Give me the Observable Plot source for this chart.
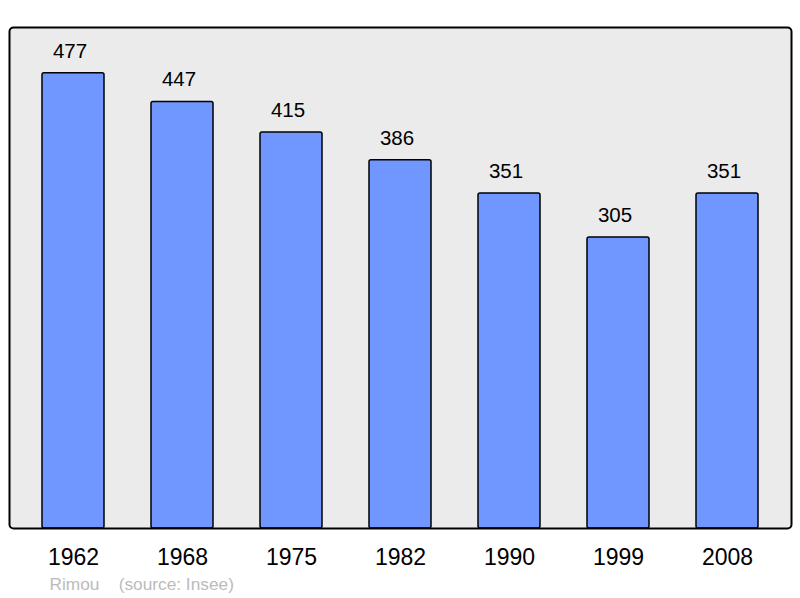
<!DOCTYPE html>
<html>
<head>
<meta charset="utf-8">
<script src="https://cdn.jsdelivr.net/npm/d3@7"></script>
<script src="https://cdn.jsdelivr.net/npm/@observablehq/plot@0.6"></script>
<style>
  html, body { margin: 0; padding: 0; background: #fff; }
  svg { display: block; font-family: "Liberation Sans", Arial, sans-serif; }
</style>
</head>
<body>
<div id="chart"></div>
<script>
const years = ["1962", "1968", "1975", "1982", "1990", "1999", "2008"];
const population = [477, 447, 415, 386, 351, 305, 351];
const caption = "Rimou    (source: Insee)";

const data = years.map((y, i) => ({year: y, value: population[i]}));

const chart = Plot.plot({
  width: 800,
  height: 598,
  marginLeft: 9,
  marginRight: 9,
  marginTop: 27,
  marginBottom: 70,
  style: {background: "#ffffff", fontFamily: "'Liberation Sans', Arial, sans-serif"},
  x: {domain: years, range: [17.0, 783.5], paddingInner: 0.43, paddingOuter: 0.215, axis: null},
  y: {domain: [0, 525], axis: null},
  marks: [
    Plot.frame({fill: "#ebebeb", stroke: "none", rx: 4}),
    Plot.barY(data, {x: "year", y: "value", fill: "#7097ff", stroke: "#000", strokeWidth: 1.5, rx: 2}),
    Plot.text(data, {x: "year", y: "value", text: d => String(d.value), dy: -22, dx: -3.5, fontSize: 20.5, fill: "#000"}),
    Plot.text(years, {x: d => d, frameAnchor: "bottom", dy: 36, fontSize: 23, fill: "#000"}),
    Plot.text([caption], {text: d => d, frameAnchor: "bottom-left", dx: 40, dy: 61, fontSize: 17.3, fill: "#bbbbbb", textAnchor: "start"}),
    Plot.frame({stroke: "#000", strokeWidth: 2, rx: 4, fill: "none"})
  ]
});
document.getElementById("chart").appendChild(chart);
</script>
</body>
</html>
